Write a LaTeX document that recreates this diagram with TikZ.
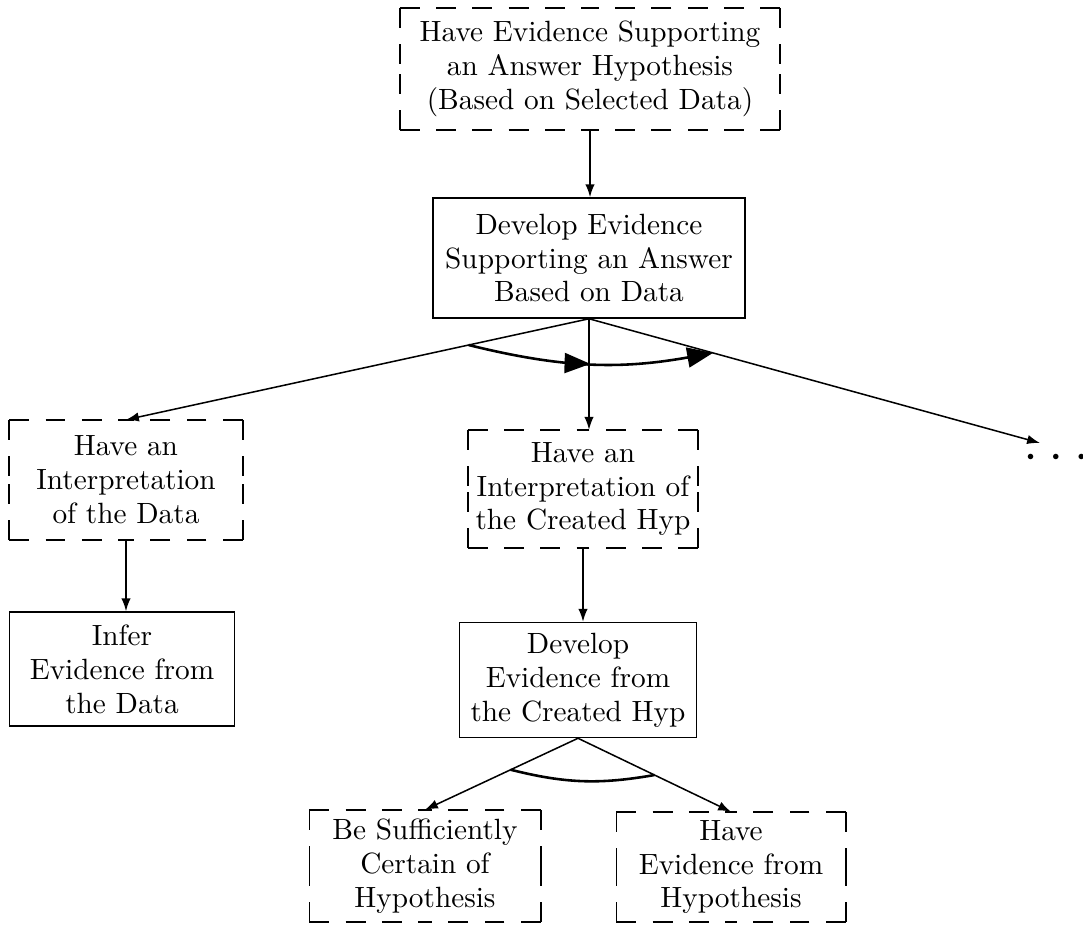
\documentclass[tikz,border=0pt]{standalone}
\usepackage{fontspec}
\setmainfont{lmroman10-regular.otf}
\usetikzlibrary{arrows.meta,calc,decorations.markings}
\begin{document}
\begin{tikzpicture}[x=0.03cm,y=-0.03cm,
  every node/.style={font=\fontsize{25}{29}\selectfont, align=center, inner sep=0pt},
  goalbox/.style={},
  goalline/.style={line width=1.3pt, dash pattern=on 17pt off 14pt},
  taskbox/.style={draw, line width=1.3pt},
  link/.style={line width=1.3pt, -{Latex[length=11pt,width=8pt]}},
  seqarc/.style={line width=2.2pt,
    postaction={decorate},
    decoration={markings, mark=at position 0.5 with {\arrow{Triangle[length=22pt,width=17pt]}}},
    -{Triangle[length=22pt,width=17pt]}},
  andarc/.style={line width=2.2pt}
]
\useasboundingbox (0,0) rectangle (1083,930);

% goals (dashed frames added below) and tasks (solid)
\node[goalbox, minimum width=11.4cm, minimum height=3.66cm] (top) at (590,69)
  {Have Evidence Supporting\\an Answer Hypothesis\\(Based on Selected Data)};
\node[taskbox, minimum width=9.36cm, minimum height=3.6cm] (dev) at (589,258)
  {Develop Evidence\\Supporting an Answer\\Based on Data};
\node[goalbox, minimum width=6.99cm, minimum height=3.6cm] (interp) at (126,480)
  {Have an\\Interpretation\\of the Data};
\node[goalbox, minimum width=6.9cm, minimum height=3.54cm] (interpc) at (583,489)
  {Have an\\Interpretation of\\the Created Hyp};
\node[taskbox, minimum width=6.75cm, minimum height=3.42cm] (infer) at (122,669)
  {Infer\\Evidence from\\the Data};
\node[taskbox, minimum width=7.11cm, minimum height=3.45cm] (devc) at (578,680)
  {Develop\\Evidence from\\the Created Hyp};
\node[goalbox, minimum width=6.93cm, minimum height=3.36cm] (cert) at (425,866)
  {Be Sufficiently\\Certain of\\Hypothesis};
\node[goalbox, minimum width=6.87cm, minimum height=3.3cm] (evh) at (731,867)
  {Have\\Evidence from\\Hypothesis};
\node[font=\fontsize{13}{16}\selectfont] (more) at (1056,457) {$\bullet\quad\bullet\quad\bullet$};
\coordinate (moreend) at (1040,443);

% dashed goal frames: each half side starts at a corner, so corners show as L shapes
\foreach \n in {top,interp,interpc,cert,evh}
  \draw[goalline]
    (\n.north west) -- (\n.north) (\n.north east) -- (\n.north)
    (\n.north east) -- (\n.east)  (\n.south east) -- (\n.east)
    (\n.south east) -- (\n.south) (\n.south west) -- (\n.south)
    (\n.south west) -- (\n.west)  (\n.north west) -- (\n.west);

% connectors
\draw[link] (top.south) -- (top.south |- dev.north);
\draw[link] (dev.south) -- (interp.north);
\draw[link] (dev.south) -- (dev.south |- interpc.north);
\draw[link] (dev.south) -- (moreend);
\draw[link] (interp.south) -- (interp.south |- infer.north);
\draw[link] (interpc.south) -- (interpc.south |- devc.north);
\draw[link] (devc.south) -- (cert.north);
\draw[link] (devc.south) -- (evh.north);

% ordering arc across the subgoals
\draw[seqarc] ($(dev.south)!0.26!(interp.north)$) to[bend right=12] ($(dev.south)!0.275!(moreend)$);
% conjunction arc
\draw[andarc] ($(devc.south)!0.44!(cert.north)$) to[bend right=12] ($(devc.south)!0.5!(evh.north)$);
\end{tikzpicture}
\end{document}
